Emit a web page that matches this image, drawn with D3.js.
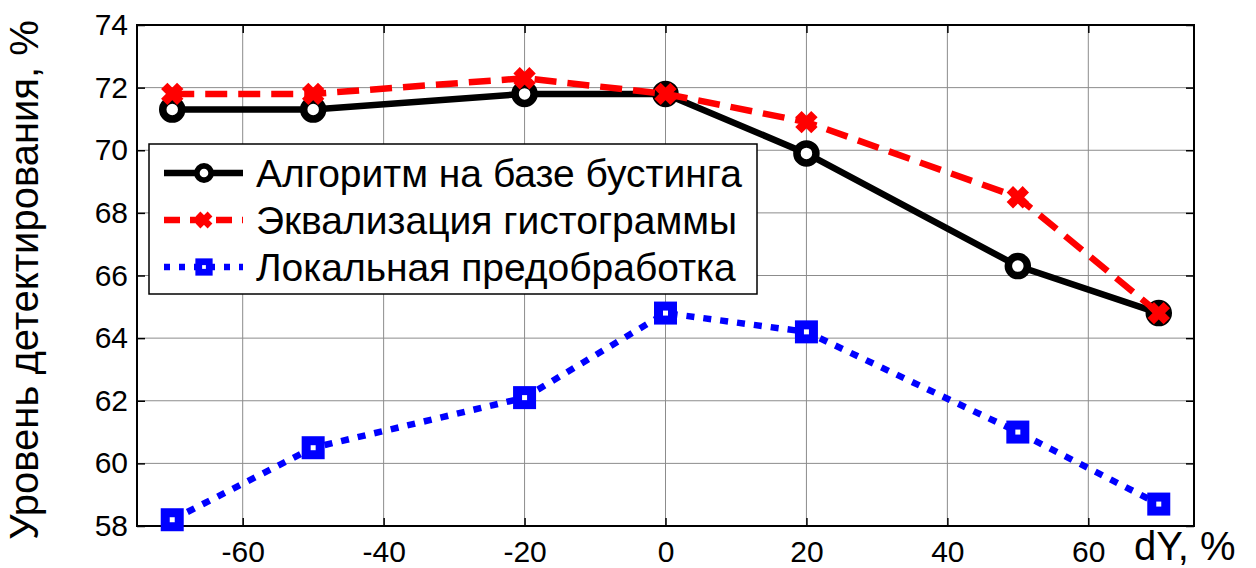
<!DOCTYPE html>
<html>
<head>
<meta charset="utf-8">
<script src="https://cdn.jsdelivr.net/npm/d3@7"></script>
<style>
  body { margin: 0; background: #fff; }
  svg text { font-family: "Liberation Sans", Arial, sans-serif; fill: #000; }
</style>
</head>
<body>
<div id="chart"></div>
<script>
// Data
const dY = [-70, -50, -20, 0, 20, 50, 70];
const boosting = [71.3, 71.3, 71.8, 71.8, 69.9, 66.3, 64.8];
const histEq = [71.8, 71.8, 72.3, 71.8, 70.9, 68.5, 64.8];
const localPre = [58.2, 60.5, 62.1, 64.8, 64.2, 61.0, 58.7];
const xTicks = [-60, -40, -20, 0, 20, 40, 60];
const yTicks = [58, 60, 62, 64, 66, 68, 70, 72, 74];
const seriesNames = ['Алгоритм на базе бустинга', 'Эквализация гистограммы', 'Локальная предобработка'];

const width = 1256;
const height = 568;
const margin = { top: 25, right: 62, bottom: 42, left: 137 };

const svg = d3.select('#chart')
    .append('svg')
    .attr('width', width)
    .attr('height', height);

const x = d3.scaleLinear().domain([-75, 75]).range([margin.left, width - margin.right]);
const y = d3.scaleLinear().domain([58, 74]).range([height - margin.bottom, margin.top]);

// Gridlines
const grid = svg.append('g').attr('class', 'grid');
grid.selectAll('line.vx')
    .data(xTicks)
    .join('line')
    .attr('x1', d => x(d)).attr('x2', d => x(d))
    .attr('y1', y(58)).attr('y2', y(74))
    .attr('stroke', '#8c8c8c').attr('stroke-width', 1);
grid.selectAll('line.hy')
    .data(yTicks)
    .join('line')
    .attr('x1', x(-75)).attr('x2', x(75))
    .attr('y1', d => y(d)).attr('y2', d => y(d))
    .attr('stroke', '#8c8c8c').attr('stroke-width', 1);

// Axes (inner ticks, matlab style)
const tickLen = 8;
const fmt = d => String(d);
svg.append('g')
    .attr('transform', `translate(0, ${y(58)})`)
    .call(d3.axisBottom(x).tickValues(xTicks).tickFormat(fmt).tickSize(-tickLen).tickPadding(13))
    .call(g => g.select('.domain').remove())
    .call(g => g.selectAll('.tick text').attr('font-size', 30).attr('font-family', '"Liberation Sans", Arial, sans-serif').attr('dy', '0.75em'));
svg.append('g')
    .attr('transform', `translate(0, ${y(74)})`)
    .call(d3.axisTop(x).tickValues(xTicks).tickSize(-tickLen).tickFormat(''))
    .call(g => g.select('.domain').remove());
svg.append('g')
    .attr('transform', `translate(${x(-75)}, 0)`)
    .call(d3.axisLeft(y).tickValues(yTicks).tickFormat(fmt).tickSize(-tickLen).tickPadding(9))
    .call(g => g.select('.domain').remove())
    .call(g => g.selectAll('.tick text').attr('font-size', 30).attr('font-family', '"Liberation Sans", Arial, sans-serif'));
svg.append('g')
    .attr('transform', `translate(${x(75)}, 0)`)
    .call(d3.axisRight(y).tickValues(yTicks).tickSize(-tickLen).tickFormat(''))
    .call(g => g.select('.domain').remove());
svg.selectAll('.tick line').attr('stroke', '#000').attr('stroke-width', 1.5);

svg.append('rect')
    .attr('x', x(-75)).attr('y', y(74))
    .attr('width', x(75) - x(-75)).attr('height', y(58) - y(74))
    .attr('fill', 'none').attr('stroke', '#000').attr('stroke-width', 2);

// Series
const line = d3.line().x(d => x(d[0])).y(d => y(d[1]));

function markerCircle(g) {
    g.append('circle').attr('r', 9.5).attr('fill', '#fff').attr('stroke', '#000').attr('stroke-width', 7.5);
}
function markerX(g) {
    g.append('path').attr('d', 'M-8,-8L8,8M-8,8L8,-8').attr('stroke', '#f00').attr('stroke-width', 9).attr('fill', 'none');
}
function markerSquare(g) {
    g.append('rect').attr('x', -7).attr('y', -7).attr('width', 14).attr('height', 14)
        .attr('fill', '#fff').attr('stroke', '#00f').attr('stroke-width', 9);
}

const series = [
    { name: seriesNames[0], values: boosting, color: '#000', dash: null, marker: markerCircle },
    { name: seriesNames[1], values: histEq, color: '#f00', dash: '22,11', marker: markerX },
    { name: seriesNames[2], values: localPre, color: '#00f', dash: '8,9', marker: markerSquare },
];

// Draw in order: blue, black, red on top (as in the picture)
[series[2], series[0], series[1]].forEach(s => {
    const pts = dY.map((d, i) => [d, s.values[i]]);
    svg.append('path')
        .datum(pts)
        .attr('d', line)
        .attr('fill', 'none')
        .attr('stroke', s.color)
        .attr('stroke-width', 6.5)
        .attr('stroke-dasharray', s.dash);
    pts.forEach(p => {
        const g = svg.append('g').attr('transform', `translate(${x(p[0])},${y(p[1])})`);
        s.marker(g);
    });
});

// Legend
const legend = svg.append('g').attr('transform', 'translate(149, 144)');
legend.append('rect')
    .attr('width', 608).attr('height', 150)
    .attr('fill', '#fff').attr('stroke', '#000').attr('stroke-width', 1.5);
series.forEach((s, i) => {
    const cy = 29 + i * 47;
    legend.append('line')
        .attr('x1', 15).attr('x2', 94).attr('y1', cy).attr('y2', cy)
        .attr('stroke', s.color).attr('stroke-width', 6.5)
        .attr('stroke-dasharray', s.dash ? (i === 1 ? '16,10' : '6,9') : null);
    const g = legend.append('g').attr('transform', `translate(55,${cy}) scale(0.75)`);
    s.marker(g);
    legend.append('text')
        .attr('x', 107).attr('y', cy).attr('dy', '0.36em')
        .attr('font-size', 39)
        .text(s.name);
});

// Axis labels
svg.append('text')
    .attr('transform', `translate(38, 280) rotate(-90)`)
    .attr('text-anchor', 'middle')
    .attr('font-size', 40)
    .text('Уровень детектирования, %');
svg.append('text')
    .attr('x', 1134).attr('y', 560)
    .attr('font-size', 40)
    .text('dY, %');
</script>
</body>
</html>
